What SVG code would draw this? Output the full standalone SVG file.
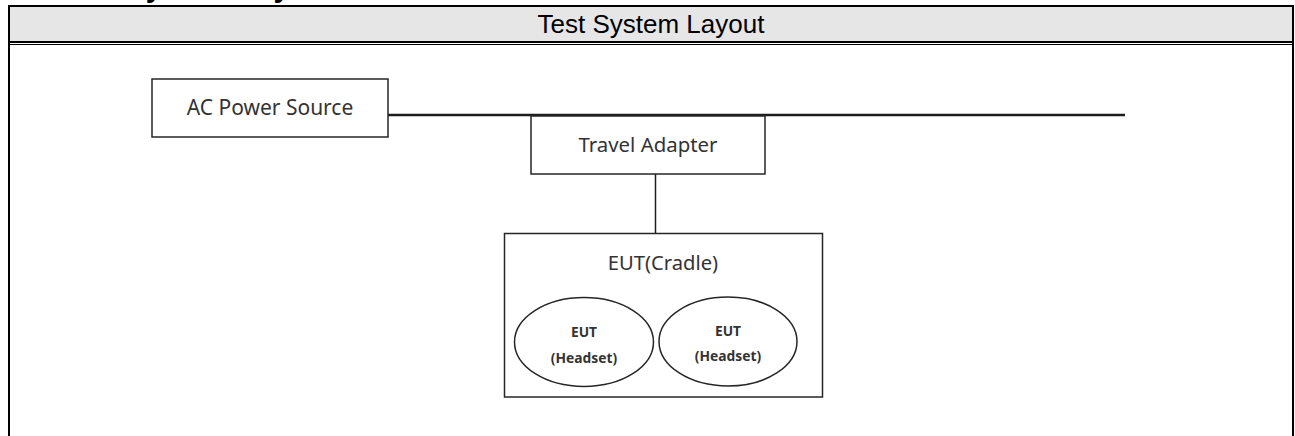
<svg xmlns="http://www.w3.org/2000/svg" width="1295" height="436" viewBox="0 0 1295 436">
  <style>
    .frame { stroke: #000; fill: none; }
    .box { fill: #fff; stroke: #262626; stroke-width: 1.5; }
    .wire { stroke: #1e1e1e; fill: none; }
    .lbl { font-family: "Noto Sans", "Open Sans", "DejaVu Sans", sans-serif; fill: #333; text-anchor: middle; }
    .small { font-family: "Noto Sans", "Open Sans", "DejaVu Sans", sans-serif; font-weight: bold; fill: #333; font-size: 13.8px; text-anchor: middle; }
  </style>

  <!-- section heading (only descenders fall inside the page) -->
  <text x="126" y="-3" font-family="Liberation Sans, Arial, sans-serif" font-weight="bold" font-size="29.5" fill="#000">System Layout</text>

  <!-- table frame -->
  <g id="table">
    <rect x="9" y="7" width="1283" height="34" fill="#e6e6e6"/>
    <line class="frame" x1="8" y1="6" x2="1294" y2="6" stroke-width="2"/>
    <line class="frame" x1="9" y1="5" x2="9" y2="436" stroke-width="2"/>
    <line class="frame" x1="1293" y1="5" x2="1293" y2="436" stroke-width="2"/>
    <line class="frame" x1="8" y1="42" x2="1294" y2="42" stroke-width="2"/>
    <line class="frame" x1="8" y1="44.5" x2="1294" y2="44.5" stroke-width="1.2"/>
    <text x="651" y="33" font-family="Liberation Sans, Arial, sans-serif" font-size="26" fill="#000" text-anchor="middle">Test System Layout</text>
  </g>

  <!-- connectors -->
  <g id="connectors">
    <line class="wire" x1="388" y1="115" x2="1125" y2="115" stroke-width="2.5"/>
    <line class="wire" x1="655.5" y1="174" x2="655.5" y2="233" stroke-width="1.5"/>
  </g>

  <g id="ac-power">
    <rect class="box" x="152" y="79" width="236" height="58"/>
    <text class="lbl" x="270" y="115" font-size="21">AC Power Source</text>
  </g>

  <g id="travel-adapter">
    <rect class="box" x="531" y="116" width="234" height="58"/>
    <text class="lbl" x="648" y="152" font-size="20.4">Travel Adapter</text>
  </g>

  <g id="cradle">
    <rect class="box" x="504.5" y="233.5" width="318" height="163.5"/>
    <text class="lbl" x="663" y="270" font-size="20.2">EUT(Cradle)</text>
  </g>

  <g id="headset-1">
    <ellipse class="box" cx="584" cy="342" rx="69.5" ry="44.5"/>
    <text class="small" x="584" y="337">EUT</text>
    <text class="small" x="584" y="363">(Headset)</text>
  </g>

  <g id="headset-2">
    <ellipse class="box" cx="728" cy="341.5" rx="69" ry="44.5"/>
    <text class="small" x="728" y="336">EUT</text>
    <text class="small" x="728" y="361">(Headset)</text>
  </g>
</svg>
